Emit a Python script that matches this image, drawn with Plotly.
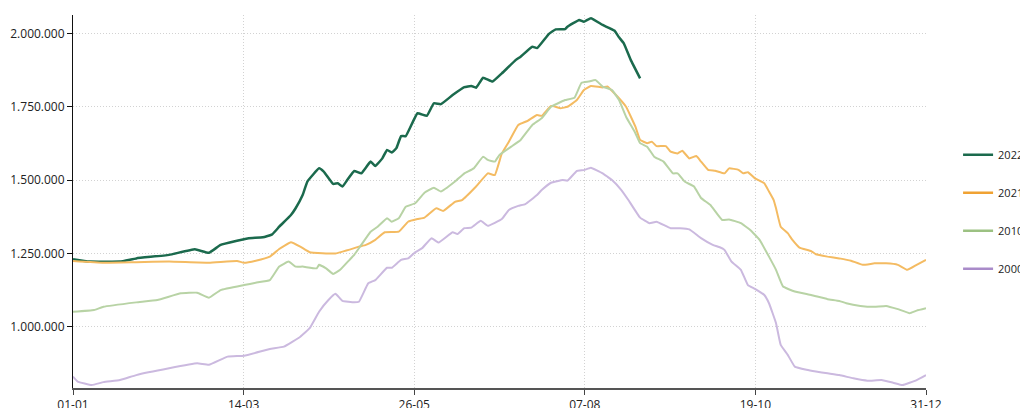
import plotly.graph_objects as go

# Day-of-year index (0 = 01-01, 364 = 31-12) and values
days_2022 = [0, 7, 20, 27, 41, 52, 58, 63, 70, 75, 81, 85, 88, 93, 95, 98, 100, 105, 107, 111, 113, 115, 117,
             120, 123, 127, 129, 132, 134, 136, 138, 140, 142, 147, 151, 154, 157, 162, 167, 170, 172, 175,
             179, 183, 189, 191, 196, 198, 203, 206, 210, 211, 216, 218, 221, 226, 231, 233, 235, 238, 242]
vals_2022 = [1230000, 1222000, 1222000, 1233000, 1245000, 1264000, 1252000, 1279000, 1293000, 1302000, 1305000,
             1315000, 1341000, 1381000, 1404000, 1449000, 1495000, 1540000, 1529000, 1487000, 1489000, 1478000,
             1500000, 1531000, 1523000, 1563000, 1548000, 1574000, 1603000, 1594000, 1609000, 1650000, 1650000,
             1728000, 1719000, 1762000, 1759000, 1790000, 1817000, 1821000, 1815000, 1849000, 1836000, 1864000,
             1910000, 1921000, 1955000, 1950000, 1998000, 2014000, 2015000, 2023000, 2046000, 2040000, 2052000,
             2029000, 2010000, 1987000, 1967000, 1910000, 1847000]

days_2021 = [0, 13, 27, 41, 58, 70, 73, 78, 84, 88, 93, 97, 101, 112, 120, 122, 125, 129, 133, 139, 143, 147,
             150, 155, 158, 163, 166, 172, 177, 180, 183, 186, 190, 194, 198, 200, 204, 208, 211, 215, 218, 221,
             226, 228, 231, 236, 240, 242, 245, 247, 249, 253, 255, 258, 260, 263, 266, 268, 271, 274, 278, 280,
             284, 286, 288, 291, 295, 297, 299, 300, 302, 305, 307, 310, 315, 317, 322, 327, 332, 337, 342, 347,
             352, 356, 360, 364]
vals_2021 = [1224000, 1218000, 1220000, 1222000, 1218000, 1224000, 1218000, 1225000, 1239000, 1265000, 1288000,
             1273000, 1254000, 1250000, 1268000, 1273000, 1279000, 1296000, 1322000, 1324000, 1358000, 1367000,
             1372000, 1404000, 1395000, 1426000, 1432000, 1478000, 1523000, 1517000, 1591000, 1631000, 1688000,
             1702000, 1722000, 1719000, 1753000, 1745000, 1750000, 1773000, 1807000, 1821000, 1816000, 1819000,
             1796000, 1750000, 1682000, 1637000, 1626000, 1631000, 1616000, 1616000, 1597000, 1591000, 1600000,
             1574000, 1582000, 1563000, 1535000, 1532000, 1523000, 1540000, 1535000, 1523000, 1527000, 1506000,
             1489000, 1461000, 1432000, 1404000, 1341000, 1319000, 1296000, 1270000, 1258000, 1247000, 1239000,
             1233000, 1225000, 1211000, 1216000, 1216000, 1211000, 1194000, 1211000, 1228000]

days_2010 = [0, 9, 13, 27, 36, 46, 53, 58, 63, 73, 78, 84, 88, 92, 95, 98, 104, 105, 108, 111, 114, 118, 120,
             123, 127, 130, 134, 136, 139, 142, 146, 150, 154, 157, 163, 167, 171, 175, 177, 180, 182, 187, 191,
             196, 200, 204, 207, 210, 214, 217, 220, 223, 226, 230, 233, 236, 240, 242, 245, 248, 252, 256, 258,
             261, 265, 268, 272, 277, 280, 285, 289, 293, 297, 300, 303, 308, 315, 322, 327, 330, 336, 342, 347,
             352, 357, 360, 364]
vals_2010 = [1051000, 1057000, 1068000, 1083000, 1091000, 1114000, 1116000, 1099000, 1125000, 1142000, 1150000,
             1159000, 1205000, 1222000, 1205000, 1205000, 1199000, 1211000, 1199000, 1180000, 1194000, 1228000,
             1245000, 1279000, 1324000, 1341000, 1370000, 1358000, 1370000, 1409000, 1421000, 1457000, 1474000,
             1461000, 1495000, 1523000, 1540000, 1580000, 1569000, 1563000, 1586000, 1614000, 1637000, 1688000,
             1711000, 1750000, 1762000, 1773000, 1781000, 1832000, 1836000, 1841000, 1819000, 1807000, 1773000,
             1716000, 1660000, 1626000, 1614000, 1580000, 1563000, 1523000, 1523000, 1495000, 1478000, 1439000,
             1415000, 1364000, 1366000, 1353000, 1330000, 1296000, 1239000, 1194000, 1137000, 1120000, 1108000,
             1094000, 1088000, 1080000, 1071000, 1068000, 1071000, 1060000, 1046000, 1055000, 1063000]

days_2000 = [0, 2, 8, 13, 20, 27, 41, 53, 58, 66, 73, 84, 90, 97, 101, 105, 109, 112, 115, 120, 122, 126, 129,
             134, 136, 140, 143, 146, 149, 153, 156, 162, 164, 167, 170, 174, 177, 183, 186, 190, 193, 198, 200,
             204, 209, 211, 215, 218, 221, 226, 228, 230, 234, 237, 242, 246, 249, 255, 259, 263, 268, 273, 276,
             278, 281, 285, 288, 291, 295, 297, 300, 302, 305, 308, 313, 317, 322, 327, 333, 339, 345, 350, 354,
             360, 364]
vals_2000 = [830000, 813000, 801000, 811000, 818000, 835000, 858000, 875000, 870000, 898000, 901000, 924000,
             932000, 966000, 995000, 1051000, 1091000, 1112000, 1088000, 1083000, 1085000, 1148000, 1159000,
             1201000, 1201000, 1228000, 1233000, 1254000, 1268000, 1302000, 1287000, 1322000, 1316000, 1336000,
             1338000, 1361000, 1344000, 1367000, 1398000, 1412000, 1418000, 1449000, 1466000, 1491000, 1500000,
             1498000, 1531000, 1534000, 1542000, 1523000, 1512000, 1500000, 1466000, 1432000, 1372000, 1353000,
             1358000, 1336000, 1336000, 1332000, 1302000, 1279000, 1271000, 1262000, 1222000, 1194000, 1142000,
             1129000, 1108000, 1080000, 1012000, 938000, 904000, 864000, 853000, 847000, 841000, 835000, 824000,
             816000, 818000, 809000, 801000, 818000, 835000]

tick_days = [0, 72.8, 145.6, 218.4, 291.2, 364]
tick_labels = ["01-01", "14-03", "26-05", "07-08", "19-10", "31-12"]
y_ticks = [1000000, 1250000, 1500000, 1750000, 2000000]

series = [
    ("2022", days_2022, vals_2022, "#1b6a4d", "#1b6a4d", 2.5),
    ("2021", days_2021, vals_2021, "#f4bb62", "#f0a233", 2),
    ("2010", days_2010, vals_2010, "#b8d3a5", "#9cc182", 2),
    ("2000", days_2000, vals_2000, "#cbb9df", "#a98bc9", 2),
]

fig = go.Figure()
for name, xs, ys, line_col, leg_col, w in series:
    fig.add_trace(go.Scatter(x=xs, y=ys, mode="lines", name=name, legendgroup=name,
                             showlegend=False, line=dict(color=line_col, width=w, shape="spline", smoothing=0.3)))
for name, xs, ys, line_col, leg_col, w in series:
    fig.add_trace(go.Scatter(x=[None], y=[None], mode="lines", name=name, legendgroup=name,
                             showlegend=True, line=dict(color=leg_col, width=2.5)))

fig.update_layout(
    width=1028, height=408,
    margin=dict(l=65, r=110, t=7, b=28, autoexpand=False),
    paper_bgcolor="white", plot_bgcolor="white",
    font=dict(family="Open Sans", size=12, color="#222"),
    separators=",.",
    showlegend=True,
    legend=dict(x=1.0376, xanchor="left", y=0.664, yanchor="top", tracegroupgap=19,
                font=dict(size=11, color="#222"), bgcolor="rgba(0,0,0,0)"),
    xaxis=dict(range=[0, 364], tickvals=tick_days, ticktext=tick_labels,
               showgrid=True, gridcolor="#d2d2d2", griddash="1px,2px", gridwidth=1,
               showline=True, linecolor="#555", linewidth=1.5,
               ticks="outside", ticklen=5, tickcolor="#444", zeroline=False),
    yaxis=dict(range=[791000, 2063000], tickvals=y_ticks, tickformat=",d",
               showgrid=True, gridcolor="#d2d2d2", griddash="1px,2px", gridwidth=1,
               showline=True, linecolor="#111", linewidth=1,
               ticks="outside", ticklen=5, tickcolor="#111", zeroline=False),
)

fig.write_html("out.html")
